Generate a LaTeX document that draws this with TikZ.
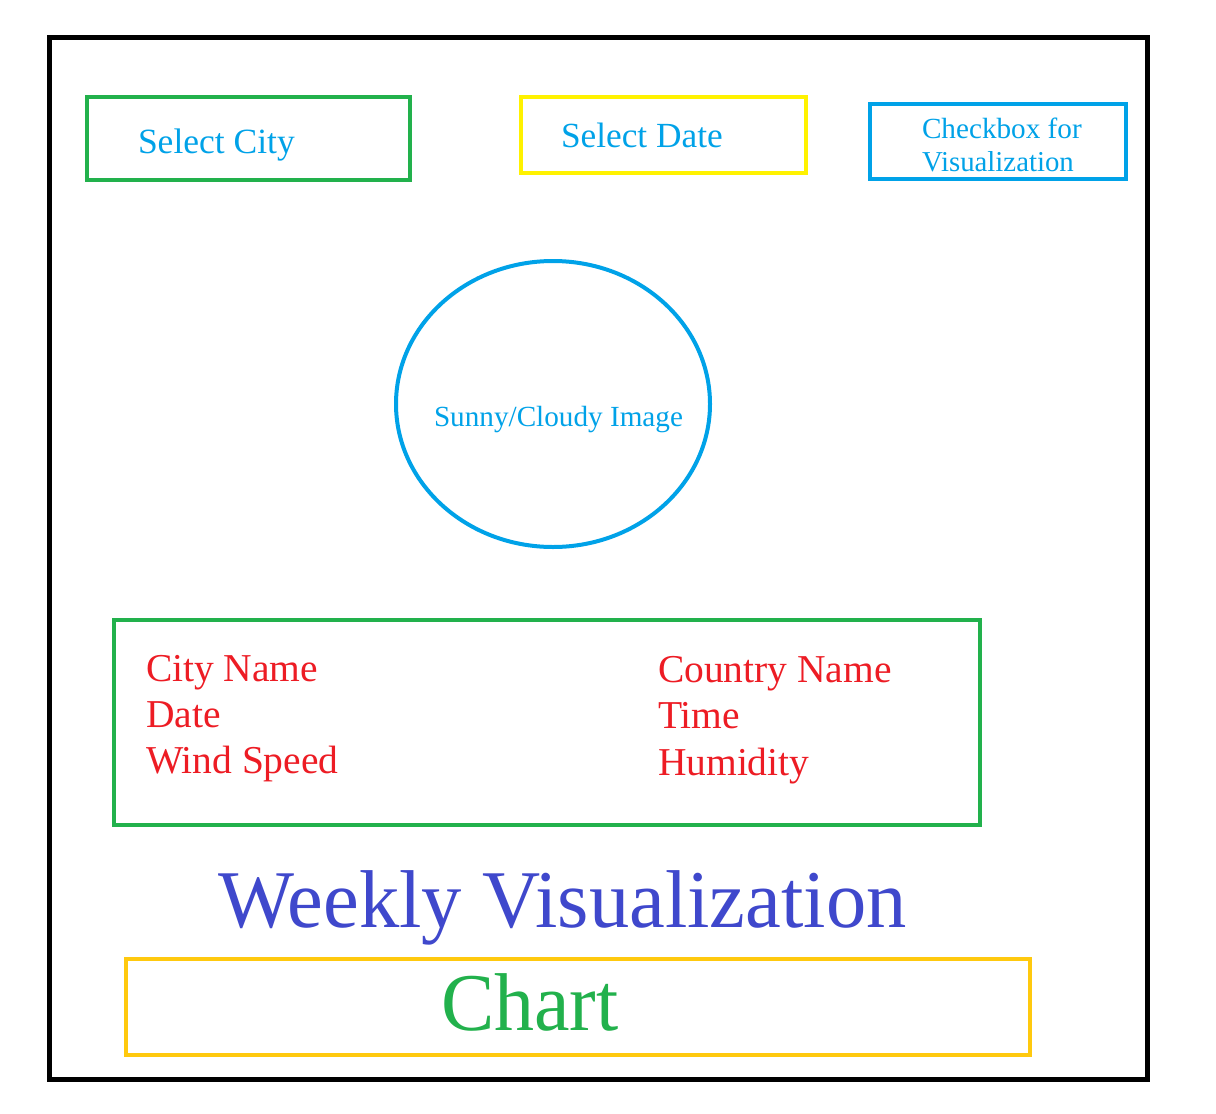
\documentclass[tikz,border=0pt]{standalone}
\usepackage{fontspec}
\setmainfont{Liberation Serif}
\usetikzlibrary{shapes.geometric}
\definecolor{pgreen}{HTML}{22B14C}
\definecolor{pyellow}{HTML}{FFF200}
\definecolor{pgold}{HTML}{FFC90E}
\definecolor{pblue}{HTML}{00A2E8}
\definecolor{pred}{HTML}{ED1C24}
\definecolor{pindigo}{HTML}{3F48CC}
\newcommand{\fs}[1]{\fontsize{#1}{#1}\selectfont}
\tikzset{
  frame/.style={line width=5pt, draw=black},
  uibox/.style={line width=4pt},
  lbl/.style={anchor=base west, inner sep=0pt, outer sep=0pt},
}
\begin{document}
\begin{tikzpicture}[x=1pt,y=-1pt]
\useasboundingbox (0,0) rectangle (1216,1114);
\fill[white] (0,0) rectangle (1216,1114);
% outer frame
\draw[frame] (49.5,37.5) rectangle (1147.5,1079);
% top boxes
\draw[uibox, draw=pgreen] (87,97) rectangle (410,180);
\node[lbl, text=pblue] (selcity) at (138,153) {\fs{35.5}Select City};
\draw[uibox, draw=pyellow] (521,97) rectangle (806,173);
\node[lbl, text=pblue] (seldate) at (561,147) {\fs{35.3}Select Date};
\draw[uibox, draw=pblue] (870,104) rectangle (1126,179);
\node[lbl, text=pblue] (chk1) at (922,138) {\fs{29.2}Checkbox for};
\node[lbl, text=pblue] (chk2) at (922,171) {\fs{28.8}Visualization};
% ellipse
\draw[uibox, draw=pblue] (553,404) ellipse [x radius=157, y radius=143];
\node[lbl, text=pblue] (sunny) at (434,426) {\fs{29.2}Sunny/Cloudy Image};
% info box
\draw[uibox, draw=pgreen] (114,620) rectangle (980,825);
\node[lbl, text=pred] (cityname) at (146,681) {\fs{39.5}City Name};
\node[lbl, text=pred] (date) at (146,727) {\fs{39.5}Date};
\node[lbl, text=pred] (wind) at (146,773) {\fs{39.5}Wind Speed};
\node[lbl, text=pred] (country) at (658,682) {\fs{39.5}Country Name};
\node[lbl, text=pred] (time) at (658,728) {\fs{39.5}Time};
\node[lbl, text=pred] (humid) at (658,775) {\fs{39.5}Humidity};
% weekly
\node[lbl, text=pindigo] (weekly) at (218,927) {\scalebox{0.982}[1]{\fs{82}Weekly Visualization}};
% chart box
\draw[uibox, draw=pgold] (126,959) rectangle (1030,1055);
\node[lbl, text=pgreen] (chart) at (441,1030) {\scalebox{0.975}[1]{\fs{82}Chart}};
\end{tikzpicture}
\end{document}
